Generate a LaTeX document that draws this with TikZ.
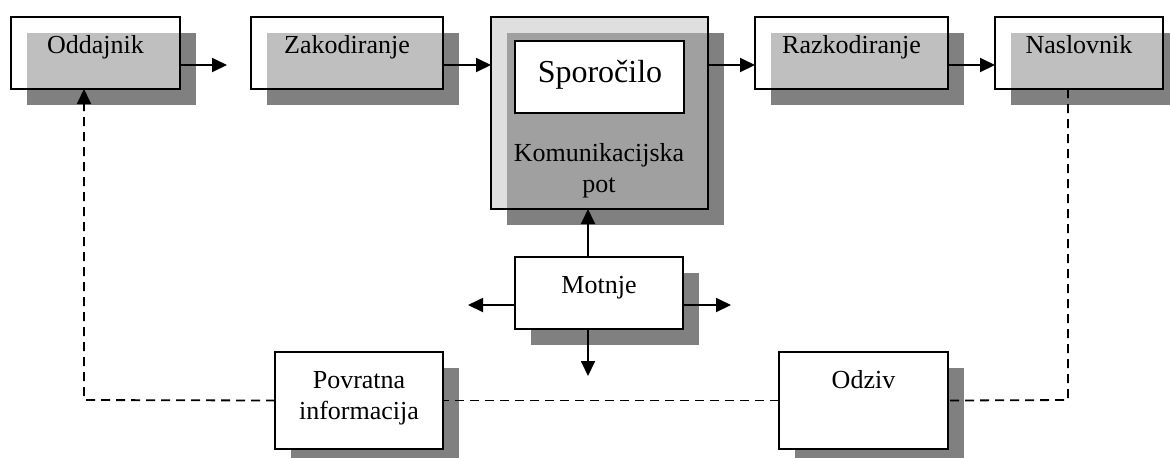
\documentclass[tikz,border=0pt]{standalone}
\usepackage{fontspec}
\setmainfont{Liberation Serif}
\usetikzlibrary{arrows.meta,shadows}
\definecolor{shade}{RGB}{128,128,128}
\definecolor{chan}{RGB}{192,192,192}
\begin{document}
\begin{tikzpicture}[x=0.5pt,y=-0.5pt,
  every node/.style={inner sep=0pt, outer sep=0pt},
  dropsh/.style={drop shadow={shadow xshift=8pt, shadow yshift=-8pt,
      fill=shade, opacity=1, fill opacity=1, draw=none}},
  glassbox/.style={draw, line width=1pt, fill=white, fill opacity=0.5, dropsh},
  solidbox/.style={draw, line width=1pt, fill=white, dropsh},
  lbl/.style={font=\fontsize{13}{15.5}\selectfont, anchor=base, align=center},
  flow/.style={line width=0.9pt, -{Triangle[length=7.5pt,width=7pt]}},
  fb/.style={line width=0.9pt, dash pattern=on 4.5pt off 3pt},
]
\useasboundingbox (0,0) rectangle (1170,457);

% top row of stages
\node[glassbox, minimum width=84.5pt, minimum height=36pt] (odd) at (95.5,53) {};
\node[glassbox, minimum width=96pt,   minimum height=36pt] (zak) at (347,53) {};
\node[draw, line width=1pt, fill=chan, fill opacity=0.5, dropsh,
      minimum width=108.5pt, minimum height=96pt] (kom) at (599.5,113) {};
\node[draw, line width=0.9pt, fill=white, minimum width=84.5pt, minimum height=36pt] (spor) at (599.5,77) {};
\node[glassbox, minimum width=96.5pt, minimum height=36pt] (raz) at (851.5,53) {};
\node[glassbox, minimum width=84pt,   minimum height=36pt] (nas) at (1079,53) {};

% noise and feedback boxes
\node[solidbox, minimum width=84pt,   minimum height=36pt]   (mot) at (599,293) {};
\node[solidbox, minimum width=84pt,   minimum height=48.5pt] (pov) at (359,400.5) {};
\node[solidbox, minimum width=84.5pt, minimum height=48.5pt] (odz) at (863.5,400.5) {};

% labels
\node[lbl] (odd-t) at (95.5,53) {Oddajnik};
\node[lbl] (zak-t) at (347,53) {Zakodiranje};
\node[lbl, font=\fontsize{16}{19}\selectfont] (spor-t) at (600,82) {Sporočilo};
\node[lbl] (kom-t) at (599,192) {Komunikacijska\\pot};
\node[lbl] (raz-t) at (851.5,53) {Razkodiranje};
\node[lbl] (nas-t) at (1079,53) {Naslovnik};
\node[lbl] (mot-t) at (599,293) {Motnje};
\node[lbl] (pov-t) at (359,419) {Povratna\\informacija};
\node[lbl] (odz-t) at (863.5,388) {Odziv};

% main flow
\coordinate (row) at (0,65);
\coordinate (oddout) at (227,65);
\draw[flow] (odd.east |- row) -- (oddout);
\draw[flow] (zak.east |- row) -- (kom.west |- row);
\draw[flow] (kom.east |- row) -- (raz.west |- row);
\draw[flow] (raz.east |- row) -- (nas.west |- row);

% disturbances
\coordinate (mx) at (588,0);
\coordinate (mL) at (468,305);
\coordinate (mR) at (731,305);
\coordinate (mD) at (588,376);
\draw[flow] (mot.north -| mx) -- (kom.south -| mx);
\draw[flow] (mot.west |- mL) -- (mL);
\draw[flow] (mot.east |- mR) -- (mR);
\draw[flow] (mot.south -| mD) -- (mD);

% feedback loop
\coordinate (fbR) at (1068,400);
\coordinate (fbL) at (84,400);
\draw[fb] (nas.south -| fbR) -- (fbR) -- (odz.east);
\draw[fb] (odz.west) -- (pov.east);
\draw[fb, -{Triangle[length=7.5pt,width=7pt]}] (pov.west) -- (fbL) -- (odd.south -| fbL);
\end{tikzpicture}
\end{document}
